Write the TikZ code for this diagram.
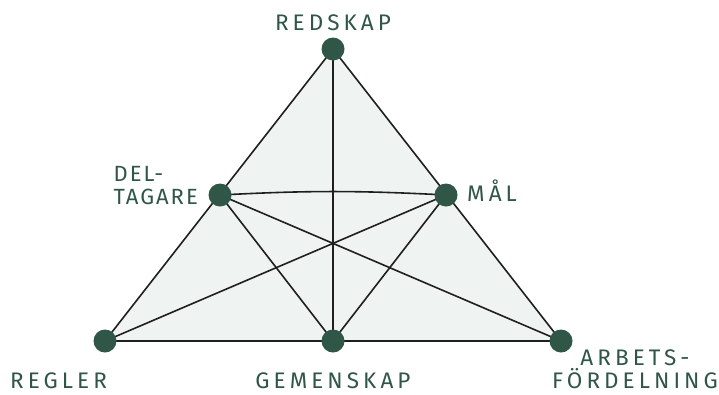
\documentclass[tikz,border=0pt]{standalone}
\usepackage{fontspec}
\setmainfont[LetterSpace=18]{Fira Sans}
\usepackage{xcolor}
\definecolor{darkgreen}{HTML}{2F5646}
\definecolor{lightfill}{HTML}{EFF3F2}
\usetikzlibrary{positioning}

\begin{document}
\begin{tikzpicture}[
	x=1pt, y=-1pt,
	dot/.style={circle, fill=darkgreen, inner sep=0pt, minimum size=23pt},
	link/.style={line width=1.6pt, draw=black!88},
	lbl/.style={text=darkgreen, font=\fontsize{22.5}{23}\selectfont, inner sep=0pt}
	]

	\useasboundingbox (0,0) rectangle (719,394);

	% corners and midpoints
	\coordinate (redskap) at (333,49);
	\coordinate (regler) at (105,341);
	\coordinate (arbets) at (561,341);
	\coordinate (deltagare) at (220,195);
	\coordinate (mal) at (446,195);
	\coordinate (gemenskap) at (333,341);

	% background triangle
	\fill[lightfill] (redskap) -- (regler) -- (arbets) -- cycle;

	% connections
	\draw[link] (redskap) -- (regler) -- (arbets) -- cycle;
	\draw[link] (redskap) -- (gemenskap);
	\draw[link] (deltagare) -- (arbets);
	\draw[link] (mal) -- (regler);
	\draw[link] (deltagare) -- (gemenskap) -- (mal);
	\draw[link] (deltagare) to[bend left=3] (mal);

	% dots
	\foreach \p in {redskap,regler,arbets,deltagare,mal,gemenskap}
		\node[dot] (\p-dot) at (\p) {};

	% labels
	\node[lbl, anchor=base east, align=left, font=\fontsize{22}{23}\selectfont\addfontfeature{LetterSpace=9}] (deltagare-lbl) at (198,204) {DEL-\\TAGARE};
	\node[lbl, anchor=base] (redskap-lbl) at (333,30) {REDSKAP};
	\node[lbl, anchor=base west] (mal-lbl) at (467,201) {MÅL};
	\node[lbl, anchor=base west] (regler-lbl) at (10,388) {REGLER};
	\node[lbl, anchor=base] (gemenskap-lbl) at (333,388) {GEMENSKAP};
	\node[lbl, anchor=base, align=center] (arbets-lbl) at (635,388) {ARBETS-\\FÖRDELNING};

\end{tikzpicture}
\end{document}
